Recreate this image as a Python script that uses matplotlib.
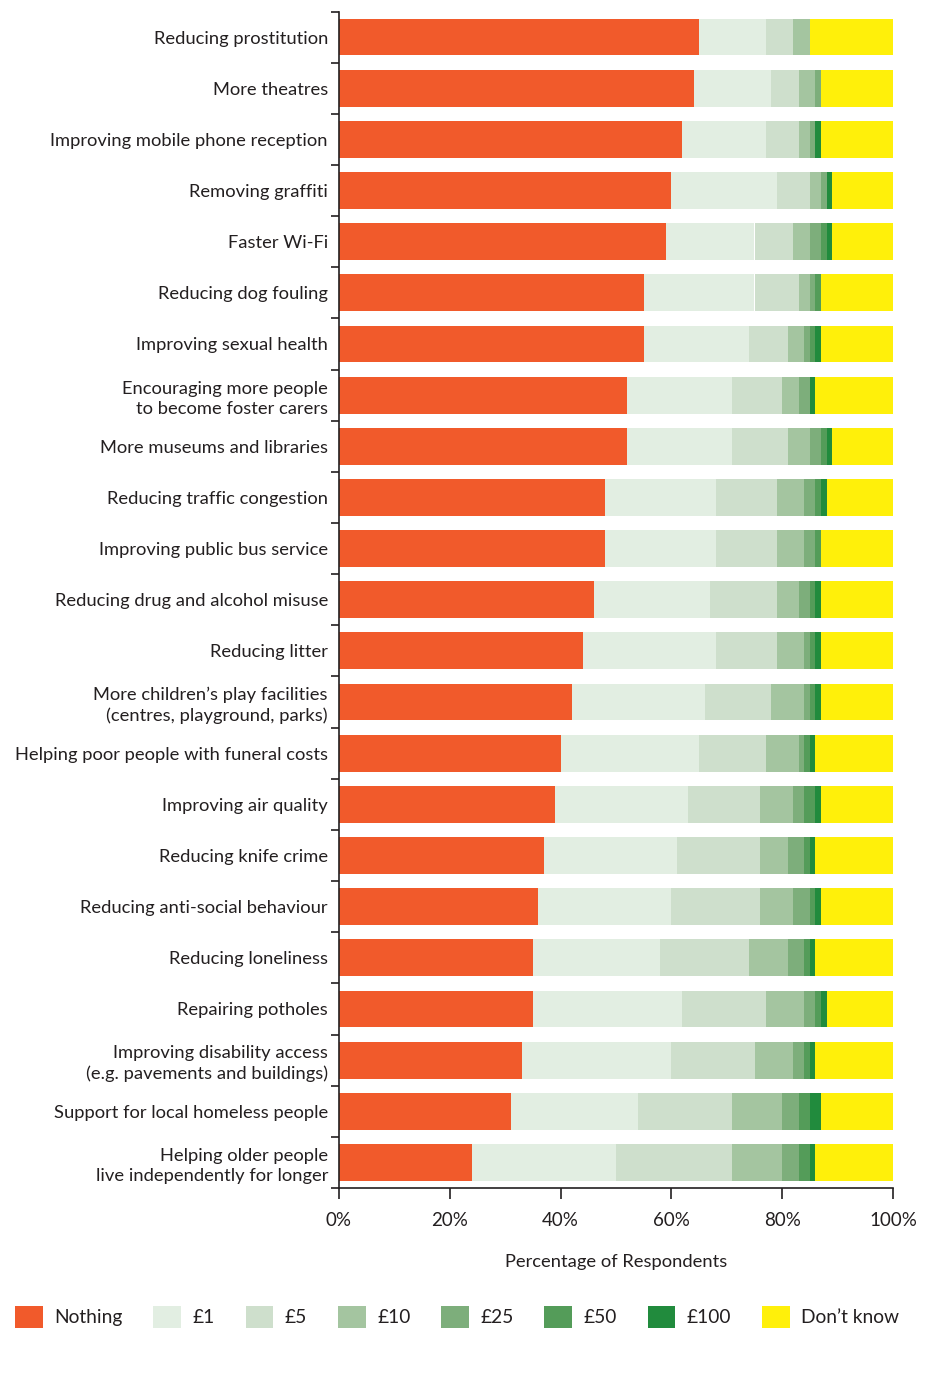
import matplotlib
matplotlib.use("Agg")
import matplotlib.pyplot as plt
from matplotlib.patches import Patch
import numpy as np

plt.rcParams['font.family'] = ['Lato', 'DejaVu Sans']

categories = [
    "Reducing prostitution",
    "More theatres",
    "Improving mobile phone reception",
    "Removing graffiti",
    "Faster Wi-Fi",
    "Reducing dog fouling",
    "Improving sexual health",
    "Encouraging more people\nto become foster carers",
    "More museums and libraries",
    "Reducing traffic congestion",
    "Improving public bus service",
    "Reducing drug and alcohol misuse",
    "Reducing litter",
    "More children\u2019s play facilities\n(centres, playground, parks)",
    "Helping poor people with funeral costs",
    "Improving air quality",
    "Reducing knife crime",
    "Reducing anti-social behaviour",
    "Reducing loneliness",
    "Repairing potholes",
    "Improving disability access\n(e.g. pavements and buildings)",
    "Support for local homeless people",
    "Helping older people\nlive independently for longer",
]

nothing = [65, 64, 62, 60, 59, 55, 55, 52, 52, 48, 48, 46, 44, 42, 40, 39, 37, 36, 35, 35, 33, 31, 24]
pound1 = [12, 14, 15, 19, 16, 20, 19, 19, 19, 20, 20, 21, 24, 24, 25, 24, 24, 24, 23, 27, 27, 23, 26]
pound5 = [5, 5, 6, 6, 7, 8, 7, 9, 10, 11, 11, 12, 11, 12, 12, 13, 15, 16, 16, 15, 15, 17, 21]
pound10 = [3, 3, 2, 2, 3, 2, 3, 3, 4, 5, 5, 4, 5, 6, 6, 6, 5, 6, 7, 7, 7, 9, 9]
pound25 = [0, 1, 1, 1, 2, 1, 1, 2, 2, 2, 2, 2, 1, 1, 1, 2, 3, 3, 3, 2, 2, 3, 3]
pound50 = [0, 0, 0, 0, 1, 1, 1, 0, 1, 1, 1, 1, 1, 1, 1, 2, 1, 1, 1, 1, 1, 2, 2]
pound100 = [0, 0, 1, 1, 1, 0, 1, 1, 1, 1, 0, 1, 1, 1, 1, 1, 1, 1, 1, 1, 1, 2, 1]
dont_know = [15, 13, 13, 11, 11, 13, 13, 14, 11, 12, 13, 13, 13, 13, 14, 13, 14, 13, 14, 12, 14, 13, 14]

series_names = ["Nothing", "\u00a31", "\u00a35", "\u00a310", "\u00a325", "\u00a350", "\u00a3100", "Don\u2019t know"]
series = [nothing, pound1, pound5, pound10, pound25, pound50, pound100, dont_know]
colors = ["#F15A2B", "#E2EEE2", "#CEDFCC", "#A4C5A0", "#7DAE7B", "#549C59", "#218B3D", "#FFF00A"]

text_color = "#231F20"

fig = plt.figure(figsize=(9.25, 13.73), dpi=100)
ax = fig.add_axes([339 / 925, 1 - 1188 / 1373, 554 / 925, (1188 - 11.5) / 1373])

y = np.arange(len(categories))
left = np.zeros(len(categories))
for name, vals, c in zip(series_names, series, colors):
    vals = np.array(vals, dtype=float)
    ax.barh(y, vals, left=left, height=0.72, color=c, linewidth=0)
    left += vals

ax.set_ylim(len(categories) - 0.5, -0.5)
ax.set_xlim(0, 100)

ax.set_yticks(y)
ax.set_yticklabels(categories, fontsize=13.2, color=text_color, ha="right",
                   linespacing=1.3)
ax.tick_params(axis="y", length=0, pad=8)
for lab in ax.get_yticklabels():
    lab.set_y(lab.get_position()[1])
# small ticks between categories
ax.set_yticks(np.arange(-0.5, len(categories) + 0.5, 1), minor=True)
ax.tick_params(axis="y", which="minor", length=6, width=1.2, color=text_color)

ax.set_xticks([0, 20, 40, 60, 80, 100])
ax.set_xticklabels(["0%", "20%", "40%", "60%", "80%", "100%"], fontsize=13.5, color=text_color)
ax.tick_params(axis="x", length=8, width=1.2, color=text_color, pad=9)
ax.set_xlabel("Percentage of Respondents", fontsize=13.2, color=text_color, labelpad=18)

for s in ["top", "right"]:
    ax.spines[s].set_visible(False)
for s in ["left", "bottom"]:
    ax.spines[s].set_linewidth(1.2)
    ax.spines[s].set_color(text_color)

handles = [Patch(facecolor=c, edgecolor="none") for c in colors]
fig.legend(handles, series_names, loc="center left", bbox_to_anchor=(0.008, 1 - 1317 / 1373),
           ncol=8, frameon=False, fontsize=13.8, handlelength=1.45, handleheight=1.45,
           handletextpad=0.6, columnspacing=1.6, labelcolor=text_color, borderaxespad=0)

fig.savefig("out.png", dpi=100)
